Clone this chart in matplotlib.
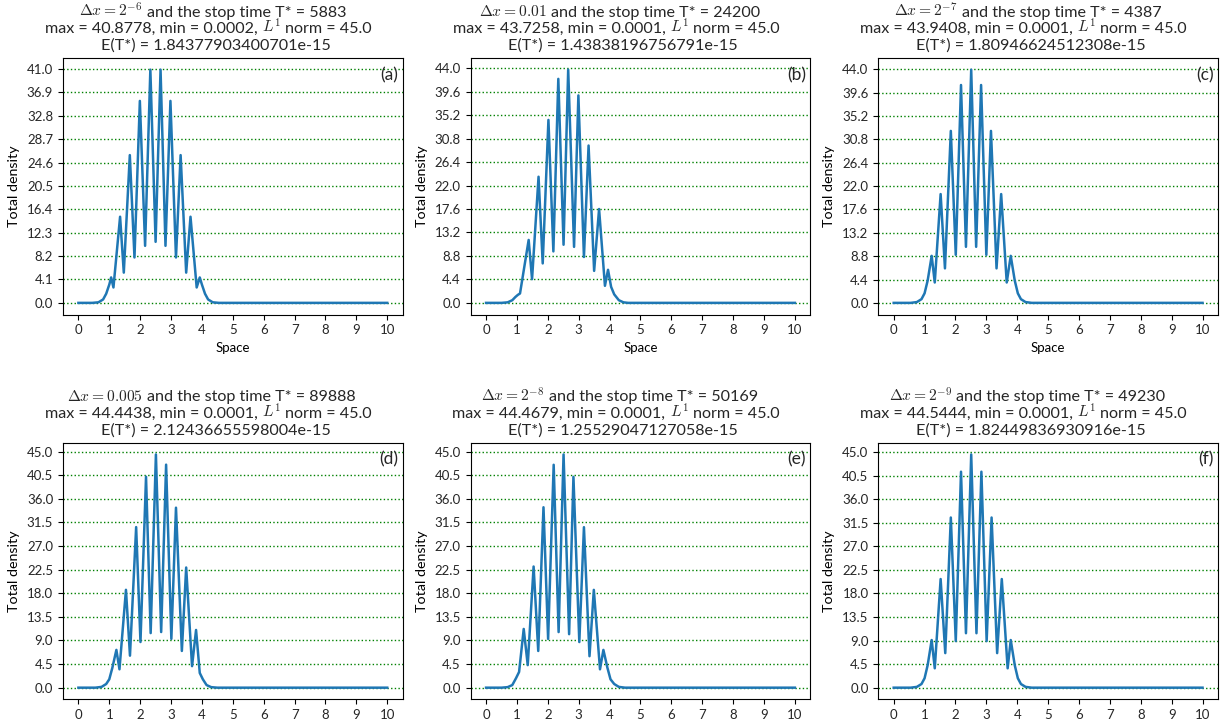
import numpy as np
import matplotlib
matplotlib.use("Agg")
import matplotlib.pyplot as plt
from matplotlib.ticker import FormatStrFormatter

plt.rcParams['font.family'] = ['Lato', 'DejaVu Sans']
plt.rcParams['mathtext.fontset'] = 'cm'
plt.rcParams['text.color'] = '#262626'
plt.rcParams['xtick.labelcolor'] = '#262626'
plt.rcParams['ytick.labelcolor'] = '#262626'

# steady-state density profiles, one run per grid spacing
x_a = [0, 0.45, 0.65, 0.8, 0.9, 1.0, 1.06, 1.135, 1.35, 1.47, 1.665, 1.816, 1.99, 2.16, 2.33, 2.50,
       2.66, 2.82, 2.98, 3.16, 3.31, 3.49, 3.63, 3.83, 3.93, 4.0, 4.1, 4.2, 4.35, 4.55, 10]
y_a = [0, 0, 0.1, 0.6, 1.6, 3.2, 4.46, 2.7, 15.1, 5.3, 25.9, 7.96, 35.4, 10.0, 40.8778, 10.7,
       40.8778, 10.0, 35.4, 7.96, 25.9, 5.3, 15.1, 2.7, 4.46, 3.2, 1.6, 0.6, 0.1, 0, 0]

x_b = [0, 0.5, 0.7, 0.85, 0.95, 1.03, 1.10, 1.38, 1.49, 1.70, 1.835, 2.02, 2.18, 2.34, 2.51,
       2.66, 2.85, 2.99, 3.17, 3.32, 3.50, 3.66, 3.85, 3.95, 4.05, 4.15, 4.3, 4.45, 4.6, 10]
y_b = [0, 0, 0.1, 0.5, 1.1, 1.5, 1.76, 11.8, 4.45, 23.65, 7.4, 34.3, 9.65, 42.0, 10.9,
       43.7258, 10.5, 38.9, 8.6, 29.5, 6.0, 17.6, 3.2, 6.2, 3.0, 1.6, 0.5, 0.1, 0, 0]

x_c = [0, 0.55, 0.75, 0.9, 1.0, 1.1, 1.23, 1.33, 1.52, 1.66, 1.85, 2.01, 2.18, 2.34, 2.51,
       2.67, 2.83, 3.00, 3.15, 3.33, 3.48, 3.66, 3.79, 3.92, 4.02, 4.12, 4.27, 4.47, 10]
y_c = [0, 0, 0.15, 0.7, 1.8, 4.2, 8.86, 3.84, 20.5, 6.5, 32.4, 9.05, 41.05, 10.56, 43.9408,
       10.56, 41.05, 9.05, 32.4, 6.5, 20.5, 3.84, 8.86, 4.2, 1.8, 0.7, 0.15, 0, 0]

x_d = [0, 0.55, 0.75, 0.9, 1.0, 1.1, 1.23, 1.33, 1.54, 1.67, 1.87, 2.01, 2.19, 2.34, 2.51,
       2.68, 2.84, 3.01, 3.16, 3.35, 3.49, 3.68, 3.81, 3.93, 4.03, 4.15, 4.3, 4.5, 10]
y_d = [0, 0, 0.15, 0.7, 1.6, 3.8, 7.2, 3.5, 18.65, 6.1, 30.6, 8.7, 40.2, 10.4, 44.4438,
       10.6, 42.5, 9.3, 34.3, 7.0, 22.9, 4.1, 11.0, 2.8, 1.6, 0.5, 0.1, 0, 0]

x_e = [0, 0.5, 0.7, 0.85, 0.97, 1.07, 1.22, 1.35, 1.54, 1.69, 1.86, 2.01, 2.19, 2.35, 2.51,
       2.69, 2.83, 3.02, 3.17, 3.35, 3.49, 3.69, 3.80, 3.93, 4.03, 4.15, 4.3, 4.5, 10]
y_e = [0, 0, 0.1, 0.5, 1.8, 3.0, 11.2, 4.3, 23.1, 7.0, 34.4, 9.3, 42.5, 10.6, 44.4679,
       10.2, 40.2, 8.7, 30.6, 6.0, 18.65, 3.5, 7.2, 3.8, 1.6, 0.7, 0.15, 0, 0]

x_f = [0, 0.55, 0.75, 0.9, 1.0, 1.1, 1.23, 1.33, 1.52, 1.67, 1.85, 2.01, 2.18, 2.34, 2.51,
       2.68, 2.84, 3.01, 3.17, 3.35, 3.50, 3.69, 3.79, 3.92, 4.02, 4.12, 4.27, 4.47, 10]
y_f = [0, 0, 0.15, 0.7, 1.8, 4.3, 9.1, 3.7, 20.75, 6.6, 32.5, 8.9, 41.25, 10.4, 44.5444,
       10.4, 41.25, 8.9, 32.5, 6.6, 20.75, 3.7, 9.1, 4.3, 1.8, 0.7, 0.15, 0, 0]

dx_labels = [r'$\Delta x = 2^{-6}$', r'$\Delta x = 0.01$', r'$\Delta x = 2^{-7}$',
             r'$\Delta x = 0.005$', r'$\Delta x = 2^{-8}$', r'$\Delta x = 2^{-9}$']
stop_times = [5883, 24200, 4387, 89888, 50169, 49230]
minima = ['0.0002', '0.0001', '0.0001', '0.0001', '0.0001', '0.0001']
l1_norms = [45.0, 45.0, 45.0, 45.0, 45.0, 45.0]
errors = ['1.84377903400701e-15', '1.43838196756791e-15', '1.80946624512308e-15',
          '2.12436655598004e-15', '1.25529047127058e-15', '1.82449836930916e-15']
panel_tags = ['(a)', '(b)', '(c)', '(d)', '(e)', '(f)']

xs = [x_a, x_b, x_c, x_d, x_e, x_f]
ys = [y_a, y_b, y_c, y_d, y_e, y_f]

TITLE_FS = 11.6
MATH_FS = 11.2

fig, axes = plt.subplots(2, 3, figsize=(12.32, 7.25), dpi=100)
fig.subplots_adjust(left=0.0511, right=0.9886, top=0.92, bottom=0.0354,
                    wspace=0.2, hspace=0.5)
renderer = fig.canvas.get_renderer()


def text_width(ax, s, fs):
    t = ax.text(0, 0, s, fontsize=fs)
    w = t.get_window_extent(renderer).width
    t.remove()
    return w


def title_line(ax, pieces, rise):
    # pieces: list of (string, fontsize), joined by single spaces
    gap = text_width(ax, 'a a', TITLE_FS) - text_width(ax, 'aa', TITLE_FS)
    widths = [text_width(ax, s, fs) for s, fs in pieces]
    total = sum(widths) + gap * (len(pieces) - 1)
    # line origin sits a bit left of centre, as in the original layout
    x0 = ax.bbox.width / 2 - 1.15 * total / 2
    for (s, fs), w in zip(pieces, widths):
        ax.annotate(s, xy=(0, 1), xycoords='axes fraction', xytext=(x0, rise),
                    textcoords='offset pixels', ha='left', va='baseline',
                    fontsize=fs, annotation_clip=False)
        x0 += w + gap


for i, ax in enumerate(axes.flat):
    x = np.array(xs[i])
    y = np.array(ys[i])
    ymax = y.max()

    ax.plot(x, y, color='#1f77b4', linewidth=1.8)
    ax.set_xticks(np.arange(0, 11, 1))
    ax.set_yticks(np.linspace(0, np.ceil(ymax), 11))
    ax.yaxis.set_major_formatter(FormatStrFormatter('%.1f'))
    ax.tick_params(labelsize=9.5)
    ax.yaxis.grid(True, color='green', linestyle=':', linewidth=1.0)
    ax.set_ylabel('Total density', fontsize=10.3, labelpad=5)
    if i < 3:
        ax.set_xlabel('Space', fontsize=9.5)

    title_line(ax, [(dx_labels[i], MATH_FS),
                    (f'and the stop time T* = {stop_times[i]}', TITLE_FS)], 41.5)
    title_line(ax, [(f'max = {ymax:.4f}, min = {minima[i]},', TITLE_FS),
                    (r'$L^1$', MATH_FS),
                    (f'norm = {l1_norms[i]}', TITLE_FS)], 25)
    title_line(ax, [(f'E(T*) = {errors[i]}', TITLE_FS)], 8)

    ax.text(0.988, 0.965, panel_tags[i], transform=ax.transAxes,
            ha='right', va='top', fontsize=12.5)

fig.savefig('out.png', dpi=100)
